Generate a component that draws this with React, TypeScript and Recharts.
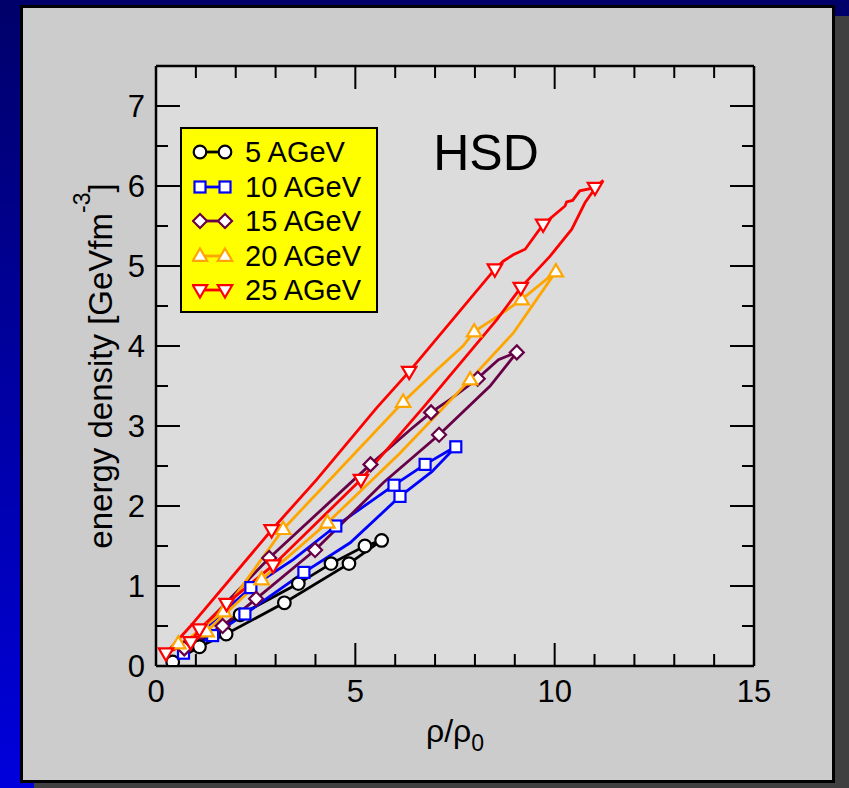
import React from 'react'
import { ComposedChart, Line, Scatter, XAxis, YAxis, CartesianGrid } from 'recharts'

type Pt = [number, number]

// trajectories in the (rho/rho0, energy density) plane
const path5: Pt[] = [
  [0.42, 0.05], [1.09, 0.24], [1.76, 0.4], [3.22, 0.79], [4.84, 1.28], [5.66, 1.57],
  [5.24, 1.5], [4.39, 1.28], [3.57, 1.03], [2.11, 0.64], [1.3, 0.38], [0.42, 0.05],
]
const marks5: Pt[] = [
  [0.42, 0.05], [1.09, 0.24], [1.76, 0.4], [3.22, 0.79], [4.84, 1.28], [5.66, 1.57],
  [5.24, 1.5], [4.39, 1.28], [3.57, 1.03], [2.11, 0.64],
]

const path10: Pt[] = [
  [0.55, 0.1], [0.69, 0.16], [1.42, 0.38], [2.23, 0.65], [3.71, 1.17], [4.87, 1.54], [6.12, 2.12],
  [6.92, 2.43], [7.52, 2.74], [7.37, 2.7], [6.75, 2.52], [5.97, 2.26], [4.51, 1.75], [3.44, 1.33],
  [2.38, 0.98], [1.3, 0.5], [0.55, 0.1],
]
const marks10: Pt[] = [
  [0.69, 0.16], [1.42, 0.38], [2.23, 0.65], [3.71, 1.17], [6.12, 2.12], [7.52, 2.74],
  [6.75, 2.52], [5.97, 2.26], [4.51, 1.75], [2.38, 0.98],
]

const path15: Pt[] = [
  [0.55, 0.12], [0.71, 0.22], [1.67, 0.5], [2.51, 0.84], [3.99, 1.45], [5.7, 2.29], [7.1, 2.89],
  [8.38, 3.5], [9.05, 3.92], [8.59, 3.83], [8.21, 3.66], [8.07, 3.59], [7.37, 3.33], [6.9, 3.17],
  [6.37, 2.95], [5.38, 2.52], [2.84, 1.35], [1.2, 0.5], [0.55, 0.12],
]
const marks15: Pt[] = [
  [0.71, 0.22], [1.67, 0.5], [2.51, 0.84], [3.99, 1.45], [7.1, 2.89], [9.05, 3.92],
  [8.07, 3.59], [6.9, 3.17], [5.38, 2.52], [2.84, 1.35],
]

const path20: Pt[] = [
  [0.45, 0.2], [0.56, 0.28], [1.27, 0.43], [2.65, 1.08], [4.3, 1.79], [6.1, 2.65], [7.88, 3.58],
  [8.96, 4.16], [10.03, 4.93], [9.17, 4.58], [8.6, 4.38], [7.98, 4.18], [7.7, 4.0], [7.04, 3.7],
  [6.2, 3.3], [3.19, 1.71], [1.7, 0.68], [0.45, 0.2],
]
const marks20: Pt[] = [
  [0.56, 0.28], [1.27, 0.43], [2.65, 1.08], [4.3, 1.79], [7.88, 3.58], [10.03, 4.93],
  [9.17, 4.58], [7.98, 4.18], [6.2, 3.3], [3.19, 1.71], [1.7, 0.68],
]

const path25: Pt[] = [
  [0.25, 0.16], [0.87, 0.3], [1.09, 0.46], [1.77, 0.78], [2.94, 1.26], [5.14, 2.33], [6.7, 3.23],
  [7.71, 3.83], [8.55, 4.33], [9.15, 4.73], [9.88, 5.12], [10.43, 5.46], [10.76, 5.79],
  [10.97, 5.94], [11.22, 6.07], [11.01, 5.98], [10.63, 5.94], [10.45, 5.82], [10.3, 5.8],
  [10.26, 5.75], [9.71, 5.52], [9.26, 5.21], [8.96, 5.14], [8.71, 5.06], [8.5, 4.96],
  [6.35, 3.68], [5.54, 3.23], [4.03, 2.33], [2.9, 1.7], [0.85, 0.49], [0.25, 0.16],
]
const marks25: Pt[] = [
  [0.25, 0.16], [0.87, 0.3], [1.09, 0.46], [1.77, 0.78], [2.94, 1.26], [5.14, 2.33],
  [9.15, 4.73], [11.01, 5.98], [9.71, 5.52], [8.5, 4.96], [6.35, 3.68], [2.9, 1.7],
]

const energies = ['5 AGeV', '10 AGeV', '15 AGeV', '20 AGeV', '25 AGeV']
const xTicks = [0, 1, 2, 3, 4, 5, 6, 7, 8, 9, 10, 11, 12, 13, 14, 15]
const yTicks = [0, 0.5, 1, 1.5, 2, 2.5, 3, 3.5, 4, 4.5, 5, 5.5, 6, 6.5, 7, 7.5]

const font = '"Liberation Sans", Arial, Helvetica, sans-serif'

const toObj = (pts: Pt[]) => pts.map(([x, y]) => ({ x, y }))

const series = [
  { name: energies[0], color: '#000000', shape: 'circle', path: path5, marks: marks5 },
  { name: energies[1], color: '#0000ff', shape: 'square', path: path10, marks: marks10 },
  { name: energies[2], color: '#670047', shape: 'diamond', path: path15, marks: marks15 },
  { name: energies[3], color: '#ffa500', shape: 'triUp', path: path20, marks: marks20 },
  { name: energies[4], color: '#ff0000', shape: 'triDown', path: path25, marks: marks25 },
]

function Marker({ cx, cy, shape, color }: { cx: number; cy: number; shape: string; color: string }) {
  const common = { fill: '#ffffff', stroke: color, strokeWidth: 2.2 }
  if (shape === 'circle') return <circle cx={cx} cy={cy} r={6.3} {...common} />
  if (shape === 'square') return <rect x={cx - 5.5} y={cy - 5.5} width={11} height={11} {...common} />
  if (shape === 'diamond')
    return <polygon points={`${cx},${cy - 7} ${cx + 7},${cy} ${cx},${cy + 7} ${cx - 7},${cy}`} {...common} />
  if (shape === 'triUp')
    return <polygon points={`${cx},${cy - 7.5} ${cx + 7.2},${cy + 4.8} ${cx - 7.2},${cy + 4.8}`} {...common} />
  return <polygon points={`${cx},${cy + 7.5} ${cx + 7.2},${cy - 4.8} ${cx - 7.2},${cy - 4.8}`} {...common} />
}

const isMajorY = (v: number) => v % 1 === 0
const isMajorX = (v: number) => v % 5 === 0

const LeftTick = ({ x, y, payload }: any) => {
  const v = payload.value
  const ax = x + 11
  return (
    <g>
      <line x1={ax} x2={ax + (isMajorY(v) ? 24 : 12)} y1={y} y2={y} stroke="#000" strokeWidth={2} />
      {isMajorY(v) && (
        <text x={x} y={y} dy="0.36em" textAnchor="end" fontSize={31} fontFamily={font} fill="#000">
          {v}
        </text>
      )}
    </g>
  )
}

const RightTick = ({ x, y, payload }: any) => (
  <line x1={x} x2={x - (isMajorY(payload.value) ? 24 : 12)} y1={y} y2={y} stroke="#000" strokeWidth={2} />
)

const BottomTick = ({ x, y, payload }: any) => {
  const v = payload.value
  const ay = y - 14
  return (
    <g>
      <line x1={x} x2={x} y1={ay} y2={ay - (isMajorX(v) ? 23 : 12)} stroke="#000" strokeWidth={2} />
      {isMajorX(v) && (
        <text x={x} y={y} dy="0.71em" textAnchor="middle" fontSize={31} fontFamily={font} fill="#000">
          {v}
        </text>
      )}
    </g>
  )
}

const TopTick = ({ x, y, payload }: any) => (
  <line x1={x} x2={x} y1={y} y2={y + (isMajorX(payload.value) ? 23 : 12)} stroke="#000" strokeWidth={2} />
)

const YLabel = ({ viewBox }: any) => {
  const cx = viewBox.x + 16
  const cy = viewBox.y + viewBox.height / 2
  return (
    <text x={cx} y={cy} transform={`rotate(-90 ${cx} ${cy})`} textAnchor="middle" fontSize={33} fontFamily={font} fill="#000">
      energy density [GeVfm
      <tspan dy={-22} fontSize={23}>-3</tspan>
      <tspan dy={22}>]</tspan>
    </text>
  )
}

const XLabel = ({ viewBox }: any) => {
  const cx = viewBox.x + viewBox.width / 2
  const cy = viewBox.y + 76
  return (
    <text x={cx} y={cy} textAnchor="middle" fontSize={32} fontFamily={font} fill="#000">
      ρ/ρ
      <tspan dy={9} fontSize={23}>0</tspan>
    </text>
  )
}

const axisLine = { stroke: '#000', strokeWidth: 2.5 }

function LegendBox() {
  return (
    <div
      style={{
        position: 'absolute', left: 180, top: 127, width: 198, height: 186, boxSizing: 'border-box',
        border: '2px solid #000', background: '#ffff00', fontFamily: font,
      }}
    >
      {series.map((s, i) => (
        <div key={s.name} style={{ position: 'absolute', left: 0, top: 6 + i * 34.5, height: 34, width: '100%' }}>
          <svg width={42} height={34} style={{ position: 'absolute', left: 10, top: 0 }}>
            <line x1={8} x2={33} y1={17} y2={17} stroke={s.color} strokeWidth={2.8} />
            <Marker cx={8} cy={17} shape={s.shape} color={s.color} />
            <Marker cx={33} cy={17} shape={s.shape} color={s.color} />
          </svg>
          <div style={{ position: 'absolute', left: 63, top: 0, fontSize: 29, lineHeight: '34px', color: '#000', whiteSpace: 'nowrap' }}>
            {s.name}
          </div>
        </div>
      ))}
    </div>
  )
}

export default function App() {
  return (
    <div
      style={{
        position: 'absolute', left: 0, top: 0, width: 849, height: 788, overflow: 'hidden',
        background: 'linear-gradient(#00006a, #0000dc)',
      }}
    >
      <div
        style={{
          position: 'absolute', left: 20, top: 5, width: 815, height: 778, boxSizing: 'border-box',
          border: '3px solid #000', background: '#cccccc', boxShadow: '14px 11px 0 #404040',
        }}
      />
      <div style={{ position: 'absolute', left: 0, top: 0 }}>
        <ComposedChart width={849} height={788} margin={{ top: 56, right: 75, bottom: 62, left: 96 }}>
          <CartesianGrid horizontal={false} vertical={false} fill="#dcdcdc" fillOpacity={1} />
          <XAxis
            type="number" dataKey="x" domain={[0, 15]} ticks={xTicks} interval={0} allowDataOverflow
            height={60} tickSize={0} tickMargin={14} tickLine={false} tick={BottomTick} axisLine={axisLine}
            label={XLabel}
          />
          <XAxis
            xAxisId="top" orientation="top" type="number" dataKey="x" domain={[0, 15]} ticks={xTicks}
            interval={0} allowDataOverflow height={10} tickSize={0} tickMargin={0} tickLine={false}
            tick={TopTick} axisLine={axisLine}
          />
          <YAxis
            type="number" dataKey="y" domain={[0, 7.5]} ticks={yTicks} interval={0} allowDataOverflow
            width={60} tickSize={0} tickMargin={11} tickLine={false} tick={LeftTick} axisLine={axisLine}
            label={YLabel}
          />
          <YAxis
            yAxisId="right" orientation="right" type="number" dataKey="y" domain={[0, 7.5]} ticks={yTicks}
            interval={0} allowDataOverflow width={20} tickSize={0} tickMargin={0} tickLine={false}
            tick={RightTick} axisLine={axisLine}
          />
          {series.map((s) => (
            <Line
              key={'l' + s.name}
              data={toObj(s.path)}
              dataKey="y"
              type="linear"
              stroke={s.color}
              strokeWidth={2.8}
              dot={false}
              activeDot={false}
              isAnimationActive={false}
              name={s.name}
            />
          ))}
          {series.map((s) => (
            <Scatter
              key={'m' + s.name}
              data={toObj(s.marks)}
              dataKey="y"
              isAnimationActive={false}
              shape={(p: any) => <Marker cx={p.cx} cy={p.cy} shape={s.shape} color={s.color} />}
            />
          ))}
        </ComposedChart>
      </div>
      <LegendBox />
      <div
        style={{
          position: 'absolute', left: 386, width: 200, top: 128, textAlign: 'center',
          fontFamily: font, fontSize: 50, lineHeight: '50px', color: '#000',
        }}
      >
        HSD
      </div>
    </div>
  )
}
